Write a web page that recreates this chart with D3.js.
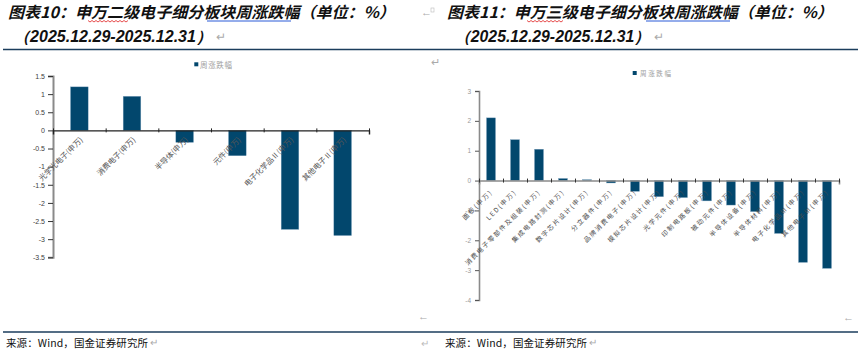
<!DOCTYPE html>
<html><head><meta charset="utf-8">
<script src="https://cdn.jsdelivr.net/npm/d3@7"></script>
<style>
html,body{margin:0;padding:0;background:#fff;}
svg{display:block;}
</style></head>
<body>
<svg id="c" width="858" height="351"></svg>
<script>
// ---------- data ----------
const leftCategories = ["光学光电子(申万)","消费电子(申万)","半导体(申万)","元件(申万)","电子化学品Ⅱ(申万)","其他电子Ⅱ(申万)"];
const leftValues = [1.20, 0.94, -0.33, -0.70, -2.73, -2.90];
const leftTicks = [1.5, 1, 0.5, 0, -0.5, -1, -1.5, -2, -2.5, -3, -3.5];

const rightCategories = ["面板(申万)","LED(申万)","消费电子零部件及组装(申万)","集成电路封测(申万)","数字芯片设计(申万)","分立器件(申万)","品牌消费电子(申万)","模拟芯片设计(申万)","光学元件(申万)","印制电路板(申万)","被动元件(申万)","半导体设备(申万)","半导体材料(申万)","电子化学品Ⅲ(申万)","其他电子Ⅲ(申万)"];
const rightValues = [2.10, 1.37, 1.05, 0.07, 0.03, -0.08, -0.36, -0.54, -0.57, -0.68, -0.82, -1.04, -1.77, -2.74, -2.94];
const rightTicks = [3, 2, 1, 0, -1, -2, -3, -4];

const seriesName = "周涨跌幅";
const titleLeft1 = "图表10：申万二级电子细分板块周涨跌幅（单位：%）";
const titleRight1 = "图表11：申万三级电子细分板块周涨跌幅（单位：%）";
const titleLine2 = "（2025.12.29-2025.12.31）";
const sourceText = "来源：Wind，国金证券研究所";

// ---------- styles ----------
const barColor = "#02476d";
const svg = d3.select("#c");
const cjk = "'Noto Sans CJK SC','Noto Sans',sans-serif";

// ---------- titles / frame ----------
function header(x0, x1, tx, l2x, t1, len1, len2, wavy, blue) {
  svg.append("text").attr("x", tx).attr("y", 18).attr("font-family", cjk)
    .attr("font-size", 15.5).attr("font-weight", 700).attr("font-style", "italic")
    .attr("fill", "#111").attr("textLength", len1).attr("lengthAdjust", "spacingAndGlyphs").text(t1);
  svg.append("text").attr("x", l2x).attr("y", 42).attr("font-family", "'Liberation Sans',Arial,sans-serif")
    .attr("font-size", 16).attr("font-weight", 700).attr("font-style", "italic")
    .attr("fill", "#111").attr("textLength", len2).attr("lengthAdjust", "spacingAndGlyphs").text(titleLine2);
  svg.append("text").attr("x", l2x + len2 + 4).attr("y", 41).attr("font-size", 12)
    .attr("fill", "#aaa").attr("font-family", cjk).text("↵");
  // red wavy spell mark
  let p = d3.path(); p.moveTo(wavy[0], 20.5);
  for (let x = wavy[0]; x < wavy[1]; x += 4) { p.lineTo(x + 2, 22); p.lineTo(x + 4, 20.5); }
  svg.append("path").attr("d", p.toString()).attr("fill", "none").attr("stroke", "#e02020").attr("stroke-width", 0.8);
  svg.append("line").attr("x1", blue[0]).attr("x2", blue[1]).attr("y1", 21).attr("y2", 21)
    .attr("stroke", "#2a5bd7").attr("stroke-width", 1);
  svg.append("line").attr("x1", x0).attr("x2", x1).attr("y1", 49.5).attr("y2", 49.5)
    .attr("stroke", "#1b3d5c").attr("stroke-width", 1.5);
  svg.append("line").attr("x1", x0).attr("x2", x1).attr("y1", 332).attr("y2", 332)
    .attr("stroke", "#1b3d5c").attr("stroke-width", 1.5);
}
header(3, 430, 8, 14, titleLeft1, 387, 198, [88, 125], [207, 291]);
header(430, 858, 447, 455, titleRight1, 386, 195, [527, 563], [646, 730]);
svg.append("text").attr("x", 421).attr("y", 16).attr("font-size", 11).attr("fill", "#aaa").text("←");
svg.append("rect").attr("x", 431).attr("y", 8).attr("width", 3).attr("height", 4).attr("fill", "none").attr("stroke", "#bbb").attr("stroke-width", 0.6);

// sources
function source(x) {
  svg.append("text").attr("x", x).attr("y", 347).attr("font-family", cjk).attr("font-size", 10.5)
    .attr("fill", "#111").attr("textLength", 142).attr("lengthAdjust", "spacing").text(sourceText);
  svg.append("text").attr("x", x + 144).attr("y", 346).attr("font-size", 10).attr("fill", "#aaa").text("↵");
}
source(6); source(445);
svg.append("text").attr("x", 421).attr("y", 347).attr("font-size", 10).attr("fill", "#bbb").text("↵");
svg.append("text").attr("x", 418).attr("y", 320).attr("font-size", 11).attr("fill", "#aaa").text("←");
svg.append("text").attr("x", 843).attr("y", 321).attr("font-size", 11).attr("fill", "#aaa").text("←");
svg.append("text").attr("x", 431).attr("y", 66).attr("font-size", 11).attr("fill", "#aaa").text("↵");

// ---------- left chart ----------
{
  const x = d3.scaleBand().domain(leftCategories).range([53, 369]).paddingInner(0.665).paddingOuter(0.3325);
  const xi = d3.scaleLinear().domain([0, leftCategories.length]).range([53, 369]);
  const y = d3.scaleLinear().domain([-3.5, 1.5]).range([257.3, 76]);
  const g = svg.append("g");

  g.selectAll("rect.bar").data(leftValues).join("rect").attr("class", "bar")
    .attr("x", (d, i) => x(leftCategories[i])).attr("width", x.bandwidth())
    .attr("y", d => y(Math.max(0, d))).attr("height", d => Math.abs(y(d) - y(0)))
    .attr("fill", barColor).attr("stroke", "#7fa3bf").attr("stroke-width", 0.4);

  const ya = g.append("g").attr("transform", "translate(53,0)")
    .call(d3.axisLeft(y).tickValues(leftTicks).tickFormat(d => String(d)).tickSize(5).tickPadding(3));
  ya.select(".domain").attr("stroke", "#8a8a8a").attr("stroke-width", 2);
  ya.selectAll(".tick line").attr("stroke", "#333");
  ya.selectAll("text").attr("font-family", "'Liberation Sans',Arial,sans-serif").attr("font-size", 7).attr("fill", "#404040");

  const xa = g.append("g").attr("transform", `translate(0,${y(0)})`)
    .call(d3.axisBottom(xi).tickValues(d3.range(leftCategories.length + 1)).tickSize(4).tickFormat(""));
  xa.select(".domain").attr("stroke", "#222").attr("stroke-width", 1.4);
  xa.selectAll(".tick line").attr("stroke", "#222").attr("transform", "translate(0,-2)");

  g.selectAll("text.xl").data(leftCategories).join("text").attr("class", "xl")
    .attr("transform", d => `translate(${x(d) + x.bandwidth() / 2 + 4},${y(0) + 10}) rotate(-45)`)
    .attr("text-anchor", "end").attr("font-family", cjk).attr("font-size", 7.6).attr("fill", "#555").text(d => d);

  g.append("rect").attr("x", 194.3).attr("y", 62.3).attr("width", 4).attr("height", 4).attr("fill", barColor);
  g.append("text").attr("x", 200).attr("y", 67.5).attr("font-family", cjk).attr("font-size", 7.5)
    .attr("fill", "#a0a0a0").attr("textLength", 32).text(seriesName);
}

// ---------- right chart ----------
{
  const x = d3.scaleBand().domain(rightCategories).range([479, 839]).paddingInner(0.625).paddingOuter(0.3125);
  const xi = d3.scaleLinear().domain([0, rightCategories.length]).range([479, 839]);
  const y = d3.scaleLinear().domain([-4, 3]).range([300, 91]);
  const g = svg.append("g");

  g.selectAll("rect.bar").data(rightValues).join("rect").attr("class", "bar")
    .attr("x", (d, i) => x(rightCategories[i])).attr("width", x.bandwidth())
    .attr("y", d => y(Math.max(0, d))).attr("height", d => Math.abs(y(d) - y(0)))
    .attr("fill", barColor).attr("stroke", "#7fa3bf").attr("stroke-width", 0.4);

  const ya = g.append("g").attr("transform", "translate(479,0)")
    .call(d3.axisLeft(y).tickValues(rightTicks).tickFormat(d => String(d)).tickSize(4).tickPadding(4));
  ya.select(".domain").attr("stroke", "#8a8a8a").attr("stroke-width", 1.6);
  ya.selectAll(".tick line").attr("stroke", "#555");
  ya.selectAll("text").attr("font-family", "'Liberation Sans',Arial,sans-serif").attr("font-size", 6.5).attr("fill", "#9a9a9a");

  const xa = g.append("g").attr("transform", `translate(0,${y(0)})`)
    .call(d3.axisBottom(xi).tickValues(d3.range(rightCategories.length + 1)).tickSize(4).tickFormat(""));
  xa.select(".domain").attr("stroke", "#8a8a8a").attr("stroke-width", 1.6);
  xa.selectAll(".tick line").attr("stroke", "#333").attr("transform", "translate(0,-2)");

  g.selectAll("text.xl").data(rightCategories).join("text").attr("class", "xl")
    .attr("transform", d => `translate(${x(d) + x.bandwidth() / 2 + 2},${y(0) + 12}) rotate(-45)`)
    .attr("text-anchor", "end").attr("font-family", cjk).attr("font-size", 6.5)
    .attr("letter-spacing", 1.5).attr("fill", "#4a4a4a").text(d => d);

  g.append("rect").attr("x", 632.7).attr("y", 71).attr("width", 4).attr("height", 4).attr("fill", barColor);
  g.append("text").attr("x", 640).attr("y", 76).attr("font-family", cjk).attr("font-size", 6.5)
    .attr("fill", "#a0a0a0").attr("textLength", 31).text(seriesName);
}
</script>
</body></html>
